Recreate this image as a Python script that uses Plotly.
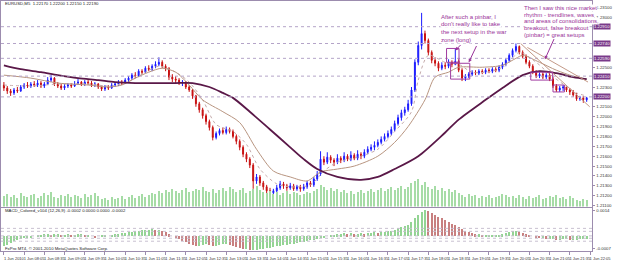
import plotly.graph_objects as go

# ---------------- data ----------------
opens = [1.2232,1.2229,1.2226,1.2224,1.2227,1.2226,1.2230,1.2232,1.2231,1.2233,
 1.2232,1.2234,1.2231,1.2233,1.2237,1.2239,1.2233,1.2231,1.2229,1.2231,
 1.2232,1.2231,1.2233,1.2235,1.2233,1.2235,1.2234,1.2232,1.2233,1.2230,
 1.2228,1.2230,1.2229,1.2232,1.2233,1.2235,1.2234,1.2237,1.2239,1.2242,
 1.2241,1.2246,1.2245,1.2249,1.2248,1.2251,1.2253,1.2255,1.2251,1.2249,
 1.2240,1.2238,1.2237,1.2234,1.2235,1.2230,1.2227,1.2221,1.2213,1.2207,
 1.2201,1.2195,1.2189,1.2179,1.2183,1.2186,1.2184,1.2187,1.2185,1.2180,
 1.2175,1.2169,1.2162,1.2157,1.2151,1.2135,1.2139,1.2133,1.2129,1.2125,
 1.2123,1.2125,1.2128,1.2132,1.2130,1.2128,1.2130,1.2127,1.2129,1.2127,
 1.2129,1.2133,1.2131,1.2137,1.2142,1.2157,1.2154,1.2159,1.2156,1.2154,
 1.2158,1.2156,1.2160,1.2157,1.2161,1.2158,1.2162,1.2160,1.2164,1.2167,
 1.2169,1.2171,1.2174,1.2177,1.2180,1.2183,1.2187,1.2193,1.2199,1.2204,
 1.2207,1.2213,1.2227,1.2255,1.2272,1.2284,1.2277,1.2265,1.2257,1.2254,
 1.2249,1.2252,1.2251,1.2255,1.2253,1.2256,1.2247,1.2239,1.2241,1.2243,
 1.2245,1.2244,1.2246,1.2245,1.2247,1.2246,1.2248,1.2247,1.2250,1.2253,
 1.2257,1.2262,1.2267,1.2271,1.2265,1.2261,1.2255,1.2251,1.2245,1.2241,
 1.2243,1.2240,1.2242,1.2238,1.2231,1.2227,1.2229,1.2230,1.2227,1.2225,
 1.2222,1.2218,1.2219,1.2217]
highs = [1.2235,1.2231,1.2228,1.2229,1.2230,1.2232,1.2234,1.2235,1.2235,1.2236,
 1.2237,1.2236,1.2235,1.2240,1.2242,1.2240,1.2235,1.2233,1.2233,1.2234,
 1.2234,1.2236,1.2238,1.2236,1.2237,1.2237,1.2236,1.2235,1.2234,1.2232,
 1.2232,1.2232,1.2234,1.2235,1.2237,1.2237,1.2239,1.2241,1.2244,1.2245,
 1.2248,1.2248,1.2251,1.2252,1.2253,1.2256,1.2260,1.2257,1.2253,1.2250,
 1.2243,1.2241,1.2239,1.2237,1.2236,1.2232,1.2228,1.2222,1.2215,1.2209,
 1.2203,1.2197,1.2191,1.2185,1.2188,1.2189,1.2190,1.2189,1.2187,1.2182,
 1.2177,1.2171,1.2164,1.2159,1.2153,1.2142,1.2141,1.2135,1.2131,1.2128,
 1.2127,1.2131,1.2135,1.2134,1.2132,1.2133,1.2132,1.2131,1.2131,1.2132,
 1.2135,1.2135,1.2139,1.2145,1.2165,1.2160,1.2164,1.2161,1.2158,1.2162,
 1.2160,1.2164,1.2162,1.2165,1.2163,1.2166,1.2164,1.2167,1.2170,1.2172,
 1.2175,1.2177,1.2180,1.2183,1.2186,1.2190,1.2196,1.2202,1.2207,1.2210,
 1.2217,1.2230,1.2258,1.2276,1.2305,1.2287,1.2279,1.2267,1.2260,1.2256,
 1.2255,1.2255,1.2258,1.2257,1.2269,1.2258,1.2249,1.2243,1.2245,1.2247,
 1.2247,1.2248,1.2248,1.2249,1.2249,1.2250,1.2250,1.2252,1.2255,1.2259,
 1.2264,1.2269,1.2274,1.2272,1.2267,1.2263,1.2257,1.2253,1.2247,1.2245,
 1.2245,1.2244,1.2244,1.2240,1.2233,1.2231,1.2232,1.2232,1.2229,1.2227,
 1.2224,1.2221,1.2221,1.2220]
lows = [1.2226,1.2223,1.2221,1.2222,1.2224,1.2225,1.2228,1.2229,1.2229,1.2230,
 1.2230,1.2229,1.2229,1.2232,1.2235,1.2231,1.2229,1.2227,1.2227,1.2229,
 1.2229,1.2230,1.2232,1.2231,1.2231,1.2232,1.2230,1.2230,1.2228,1.2226,
 1.2226,1.2227,1.2228,1.2230,1.2231,1.2232,1.2233,1.2235,1.2237,1.2239,
 1.2240,1.2243,1.2244,1.2246,1.2246,1.2249,1.2251,1.2249,1.2246,1.2237,
 1.2235,1.2234,1.2232,1.2231,1.2228,1.2225,1.2218,1.2210,1.2204,1.2198,
 1.2192,1.2186,1.2176,1.2177,1.2181,1.2182,1.2182,1.2183,1.2178,1.2172,
 1.2166,1.2159,1.2154,1.2148,1.2127,1.2132,1.2130,1.2126,1.2122,1.2120,
 1.2121,1.2123,1.2126,1.2127,1.2125,1.2126,1.2125,1.2125,1.2124,1.2125,
 1.2127,1.2129,1.2129,1.2135,1.2140,1.2151,1.2152,1.2153,1.2150,1.2152,
 1.2153,1.2154,1.2155,1.2155,1.2156,1.2156,1.2157,1.2158,1.2162,1.2165,
 1.2166,1.2169,1.2172,1.2175,1.2178,1.2181,1.2185,1.2191,1.2196,1.2201,
 1.2205,1.2211,1.2225,1.2252,1.2268,1.2274,1.2262,1.2254,1.2251,1.2246,
 1.2247,1.2248,1.2249,1.2250,1.2252,1.2245,1.2236,1.2236,1.2239,1.2241,
 1.2242,1.2242,1.2243,1.2243,1.2244,1.2244,1.2245,1.2245,1.2248,1.2251,
 1.2255,1.2260,1.2265,1.2263,1.2259,1.2253,1.2249,1.2243,1.2239,1.2239,
 1.2238,1.2238,1.2236,1.2229,1.2225,1.2225,1.2226,1.2225,1.2222,1.2220,
 1.2216,1.2216,1.2214,1.2215]
closes = [1.2229,1.2226,1.2224,1.2227,1.2226,1.2230,1.2232,1.2231,1.2233,1.2232,
 1.2234,1.2231,1.2233,1.2237,1.2239,1.2233,1.2231,1.2229,1.2231,1.2232,
 1.2231,1.2233,1.2235,1.2233,1.2235,1.2234,1.2232,1.2233,1.2230,1.2228,
 1.2230,1.2229,1.2232,1.2233,1.2235,1.2234,1.2237,1.2239,1.2242,1.2241,
 1.2246,1.2245,1.2249,1.2248,1.2251,1.2253,1.2255,1.2251,1.2249,1.2240,
 1.2238,1.2237,1.2234,1.2235,1.2230,1.2227,1.2221,1.2213,1.2207,1.2201,
 1.2195,1.2189,1.2179,1.2183,1.2186,1.2184,1.2187,1.2185,1.2180,1.2175,
 1.2169,1.2162,1.2157,1.2151,1.2135,1.2139,1.2133,1.2129,1.2125,1.2123,
 1.2125,1.2128,1.2132,1.2130,1.2128,1.2130,1.2127,1.2129,1.2127,1.2129,
 1.2133,1.2131,1.2137,1.2142,1.2157,1.2154,1.2159,1.2156,1.2154,1.2158,
 1.2156,1.2160,1.2157,1.2161,1.2158,1.2162,1.2160,1.2164,1.2167,1.2169,
 1.2171,1.2174,1.2177,1.2180,1.2183,1.2187,1.2193,1.2199,1.2204,1.2207,
 1.2213,1.2227,1.2255,1.2272,1.2284,1.2277,1.2265,1.2257,1.2254,1.2249,
 1.2252,1.2251,1.2255,1.2253,1.2256,1.2247,1.2239,1.2241,1.2243,1.2245,
 1.2244,1.2246,1.2245,1.2247,1.2246,1.2248,1.2247,1.2250,1.2253,1.2257,
 1.2262,1.2267,1.2271,1.2265,1.2261,1.2255,1.2251,1.2245,1.2241,1.2243,
 1.2240,1.2242,1.2238,1.2231,1.2227,1.2229,1.2230,1.2227,1.2225,1.2222,
 1.2218,1.2219,1.2217,1.2219]
volumes = [110,130,100,120,90,140,110,100,120,130,90,110,140,120,150,100,90,120,110,130,100,120,110,90,130,100,120,140,110,
 80,90,70,100,80,90,110,80,100,120,90,110,130,100,120,140,130,
 160,140,170,150,180,160,140,170,190,150,160,180,170,200,160,
 150,180,140,170,190,160,200,180,150,170,190,140,160,180,210,170,150,140,160,130,150,120,140,160,130,150,140,120,130,150,
 140,160,180,220,200,170,190,160,180,150,170,140,160,130,150,170,140,160,180,150,170,190,160,180,200,170,190,210,180,200,
 240,260,280,220,250,200,180,210,170,190,160,180,150,170,140,
 120,100,130,110,120,90,110,100,120,90,100,110,130,120,100,110,90,120,100,80,110,90,100,120,80,90,110,100,120,90,100,80,110,90,70,60,80,70]
macd = [-0.00050,-0.00045,-0.00035,
 -0.00025,-0.00020,-0.00015,-0.00010,-0.00005,-0.00005,0.0,0.00005,
 0.00005,0.00010,0.00010,0.00005,0.00010,0.00010,0.00005,0.00005,0.00010,0.00005,0.00005,0.00010,0.00010,0.00005,0.00005,0.0,-0.00005,0.0,0.00005,0.00005,0.0,0.00005,0.00010,
 0.00010,0.00015,0.00015,0.00020,0.00020,0.00025,0.00025,0.00030,0.00030,0.00030,0.00035,0.00030,0.00030,
 0.00025,0.00020,0.00010,0.0,-0.00010,-0.00015,-0.00025,-0.00030,-0.00040,
 -0.00045,-0.00050,-0.00050,-0.00045,-0.00040,-0.00045,-0.00050,-0.00050,-0.00045,-0.00040,-0.00040,
 -0.00045,-0.00050,-0.00055,-0.00060,-0.00065,-0.00065,-0.00070,-0.00070,-0.00070,
 -0.00065,-0.00065,-0.00060,-0.00060,-0.00055,-0.00050,-0.00050,-0.00045,-0.00045,-0.00040,-0.00040,
 -0.00035,-0.00030,-0.00030,-0.00025,-0.00020,-0.00020,-0.00015,-0.00010,-0.00005,0.0,0.00005,
 0.00005,0.00010,0.00010,0.00015,0.00010,0.00015,0.00010,0.00010,0.00015,0.00010,0.00015,0.00015,0.00020,0.00015,0.00020,
 0.00020,0.00025,0.00025,0.00030,0.00040,0.00045,0.00050,0.00055,
 0.00070,0.00090,0.00110,0.00125,0.00135,0.00130,
 0.00120,0.00110,0.00100,0.00090,0.00080,0.00070,0.00060,0.00055,0.00045,0.00035,0.00025,
 0.00020,0.00015,0.00010,0.00010,0.00005,0.00005,0.00005,0.00005,0.00005,0.00005,0.00010,0.00015,0.00020,
 0.00025,0.00025,0.00020,0.00015,0.00010,
 0.00005,0.0,-0.00005,-0.00010,-0.00010,-0.00015,-0.00015,-0.00015,-0.00020,-0.00020,-0.00015,-0.00015,-0.00020,-0.00020,-0.00020,-0.00015,-0.00015,-0.00015]

ma_long_x = [0,5,11,16,22,28,33,39,45,51,56,61,65,68,73,79,85,89,93,99,106,111,116,123,131,135,143,148,154,159,164,169,173]
ma_long_y = [1.2252,1.2248,1.2245,1.2242,1.2239,1.2237,1.2235,1.2234,1.2234,1.2234,1.2234,1.2230,1.2224,1.2219,1.2205,1.2187,
             1.2169,1.2157,1.2147,1.2139,1.2136,1.2139,1.2147,1.2160,1.2184,1.2197,1.2217,1.2229,1.2242,1.2246,1.2244,1.2240,1.2238]
ma_mid_x = [0,8,16,25,31,35,39,43,47,51,55,59,65,70,75,80,85,90,94,99,104,111,116,120,125,128,132,135,142,148,152,154,159,164,169,173]
ma_mid_y = [1.2242,1.2239,1.2234,1.2232,1.2230,1.2232,1.2239,1.2245,1.2249,1.2245,1.2232,1.2217,1.2205,1.2194,1.2167,1.2145,
            1.2139,1.2135,1.2144,1.2147,1.2150,1.2160,1.2174,1.2190,1.2217,1.2240,1.2245,1.2250,1.2250,1.2252,1.2259,1.2262,
            1.2255,1.2247,1.2241,1.2238]
ma_fast_x = [0,8,16,25,32,38,42,46,51,55,59,63,68,72,76,81,85,91,95,99,105,111,116,121,123,126,131,135,139,145,149,153,158,162,166,170,173]
ma_fast_y = [1.2232,1.2231,1.2233,1.2233,1.2231,1.2237,1.2245,1.2251,1.2245,1.2235,1.2217,1.2192,1.2185,1.2172,1.2147,1.2132,
             1.2129,1.2131,1.2145,1.2154,1.2159,1.2167,1.2185,1.2205,1.2237,1.2262,1.2255,1.2253,1.2245,1.2246,1.2252,1.2265,
             1.2255,1.2243,1.2233,1.2224,1.2221]

level_prices = [1.2291, 1.2274, 1.2259, 1.2241, 1.2220]
macd_levels = [0.00038, 0.00023, 0.0, -0.00012, -0.00027]

trend_lines = [((153.4, 1.2274), (173.9, 1.2210)), ((155.4, 1.2270), (173.4, 1.2235))]
boxes = [((131.4, 1.2269), (135.1, 1.2255)), ((132.6, 1.2254), (138.3, 1.2238)),
         ((156.4, 1.2245), (162.9, 1.2237)), ((163.0, 1.2232), (166.4, 1.2225))]

time_tick_bars = list(range(0, 175, 6))
time_labels = ["1 Jun 2010", "1 Jun 08:05", "1 Jun 08:35", "1 Jun 09:05", "1 Jun 09:35", "1 Jun 10:05",
               "1 Jun 10:35", "1 Jun 11:05", "1 Jun 11:35", "1 Jun 12:05", "1 Jun 12:35", "1 Jun 13:05",
               "1 Jun 13:35", "1 Jun 14:05", "1 Jun 14:35", "1 Jun 15:05", "1 Jun 15:35", "1 Jun 16:05",
               "1 Jun 16:35", "1 Jun 17:05", "1 Jun 17:35", "1 Jun 18:05", "1 Jun 18:35", "1 Jun 19:05",
               "1 Jun 19:35", "1 Jun 20:05", "1 Jun 20:35", "1 Jun 21:05", "1 Jun 21:35", "1 Jun 22:05"]
price_ticks_all = [1.2110 + 0.001 * k for k in range(21)]

note1 = ["After such a pinbar, I", "don't really like to take", "the next setup in the war", "zone (long)"]
note2 = ["Then I saw this nice market", "rhythm - trendlines, waves", "and areas of consolidations,",
         "breakout, false breakout", "(pinbar) = great setups"]

# ---------------- figure ----------------
W, H = 625, 262
FONT = "Liberation Sans"
AX = "#9c8cae"
PURPLE = "#993399"
bars = list(range(len(closes)))
# hide plain price labels that would sit under a highlighted level label
price_ticks = [t for t in price_ticks_all if min(abs(t - p) for p in level_prices) > 0.0006]

fig = go.Figure()
fig.add_trace(go.Bar(x=bars, y=volumes, yaxis="y2", marker=dict(color="#a6dca6", line=dict(width=0)), width=0.32))
fig.add_trace(go.Scatter(x=ma_fast_x, y=ma_fast_y, mode="lines",
                         line=dict(color="#c4aaaa", width=1, dash="dot", shape="spline", smoothing=0.8)))
fig.add_trace(go.Scatter(x=ma_mid_x, y=ma_mid_y, mode="lines",
                         line=dict(color="#b89580", width=1, shape="spline", smoothing=0.8)))
fig.add_trace(go.Scatter(x=ma_long_x, y=ma_long_y, mode="lines",
                         line=dict(color="#5a1848", width=1.8, shape="spline", smoothing=0.8)))
fig.add_trace(go.Candlestick(x=bars, open=opens, high=highs, low=lows, close=closes, whiskerwidth=0,
                             increasing=dict(line=dict(color="#1a1aff", width=1), fillcolor="#1a1aff"),
                             decreasing=dict(line=dict(color="#c81010", width=1), fillcolor="#c81010")))
macd_colors = ["#94d494" if (i == 0 or macd[i] >= macd[i - 1]) else "#c88080" for i in range(len(macd))]
fig.add_trace(go.Bar(x=bars, y=macd, xaxis="x2", yaxis="y3", marker=dict(color=macd_colors, line=dict(width=0)), width=0.32))

bar_px = 3.48
r0 = -3 / bar_px
r1 = r0 + 611 / bar_px
xd = [0, 611 / W]
main_dom = [54 / H, 1]
macd_dom = [9 / H, 53 / H]

fig.update_layout(
    width=W, height=H, margin=dict(l=0, r=0, t=0, b=0),
    paper_bgcolor="white", plot_bgcolor="white", showlegend=False, bargap=0, boxgap=0.6,
    font=dict(family=FONT, size=5, color="black"),
    xaxis=dict(domain=xd, range=[r0, r1], anchor="y", showgrid=False, zeroline=False, showticklabels=False,
               showline=True, linecolor=AX, linewidth=1, mirror=True, ticks="", rangeslider=dict(visible=False)),
    yaxis=dict(domain=main_dom, range=[1.2109, 1.2317], side="right", anchor="x", showgrid=False, zeroline=False,
               showline=True, linecolor=AX, linewidth=1, mirror=True, ticks="outside", ticklen=2, tickcolor=AX,
               tickvals=price_ticks, tickformat=".5f", tickfont=dict(size=4.3, color="#333333", family=FONT)),
    yaxis2=dict(overlaying="y", range=[0, 2080], visible=False),
    xaxis2=dict(domain=xd, range=[r0, r1], matches="x", anchor="y3", showgrid=False, zeroline=False,
                showline=True, linecolor=AX, linewidth=1, mirror=True, ticks="outside", ticklen=3, tickcolor=AX,
                tickvals=time_tick_bars, ticktext=time_labels, ticklabelshift=10, ticklabeloverflow="allow",
                tickangle=0, tickfont=dict(size=4, color="#333333", family=FONT)),
    yaxis3=dict(domain=macd_dom, range=[-0.00077, 0.00143], side="right", anchor="x2", showgrid=False,
                zeroline=False, showline=True, linecolor=AX, mirror=True, ticks="outside", ticklen=2, tickcolor=AX,
                tickvals=[0.0013, -0.00065], ticktext=["0.0014", "-0.0007"],
                tickfont=dict(size=4.3, color="#333333", family=FONT)),
)

shapes = []
for p in level_prices:
    shapes.append(dict(type="line", xref="x", yref="y", x0=r0, x1=r1, y0=p, y1=p,
                       line=dict(color="#b4a4c8", width=1, dash="dot")))
for v in macd_levels:
    shapes.append(dict(type="line", xref="x2", yref="y3", x0=r0, x1=r1, y0=v, y1=v,
                       line=dict(color="#c8c0d0", width=1, dash="dot")))
for (a, b) in trend_lines:
    shapes.append(dict(type="line", xref="x", yref="y", x0=a[0], y0=a[1], x1=b[0], y1=b[1],
                       line=dict(color="#c49a88", width=1)))
for (a, b) in boxes:
    shapes.append(dict(type="rect", xref="x", yref="y", x0=a[0], y0=a[1], x1=b[0], y1=b[1],
                       line=dict(color="#a03ca0", width=1)))
fig.update_layout(shapes=shapes)

ann = []
for p in level_prices:
    ann.append(dict(xref="paper", yref="y", x=612 / W, y=p, xanchor="left", yanchor="middle",
                    text=f"{p:.5f}", showarrow=False, bgcolor="#7a3a8a",
                    font=dict(size=4.3, color="white", family=FONT), borderpad=0))
for k, line in enumerate(note1):
    ann.append(dict(xref="paper", yref="paper", x=454 / W, y=1 - (16 + 7.7 * k) / H, xanchor="left",
                    yanchor="middle", text=line, showarrow=False, bgcolor="white", borderpad=0,
                    font=dict(size=6, color=PURPLE, family=FONT)))
for k, line in enumerate(note2):
    ann.append(dict(xref="paper", yref="paper", x=539 / W, y=1 - (7 + 6.8 * k) / H, xanchor="left",
                    yanchor="middle", text=line, showarrow=False, bgcolor="white", borderpad=0,
                    font=dict(size=6, color=PURPLE, family=FONT)))
# arrows from the notes
for (tip, tail) in [((134.0, 1.2267), (136.0, 1.2274)), ((138.0, 1.2255), (140.5, 1.2273)),
                    ((160.6, 1.2258), (163.5, 1.2280))]:
    ann.append(dict(xref="x", yref="y", axref="x", ayref="y", x=tip[0], y=tip[1], ax=tail[0], ay=tail[1],
                    text="", showarrow=True, arrowhead=2, arrowsize=0.7, arrowwidth=1, arrowcolor=PURPLE))
ann.append(dict(xref="paper", yref="paper", x=2 / W, y=1 - 3 / H, xanchor="left", yanchor="middle",
                text="EURUSD,M5  1.22170 1.22200 1.22150 1.22190", showarrow=False,
                font=dict(size=4.3, color="#222222", family=FONT)))
ann.append(dict(xref="paper", yref="paper", x=2 / W, y=1 - 212 / H, xanchor="left", yanchor="middle",
                text="MACD_Colored_v104 (12,26,9) -0.0002 0.0000 0.0000 -0.0002", showarrow=False,
                font=dict(size=4.3, color="#222222", family=FONT)))
ann.append(dict(xref="paper", yref="paper", x=2 / W, y=1 - 250.5 / H, xanchor="left", yanchor="middle",
                text="FxPro MT4, © 2001-2010 MetaQuotes Software Corp.", showarrow=False,
                font=dict(size=4.3, color="#222222", family=FONT)))
fig.update_layout(annotations=ann)

fig.write_html("out.html")
